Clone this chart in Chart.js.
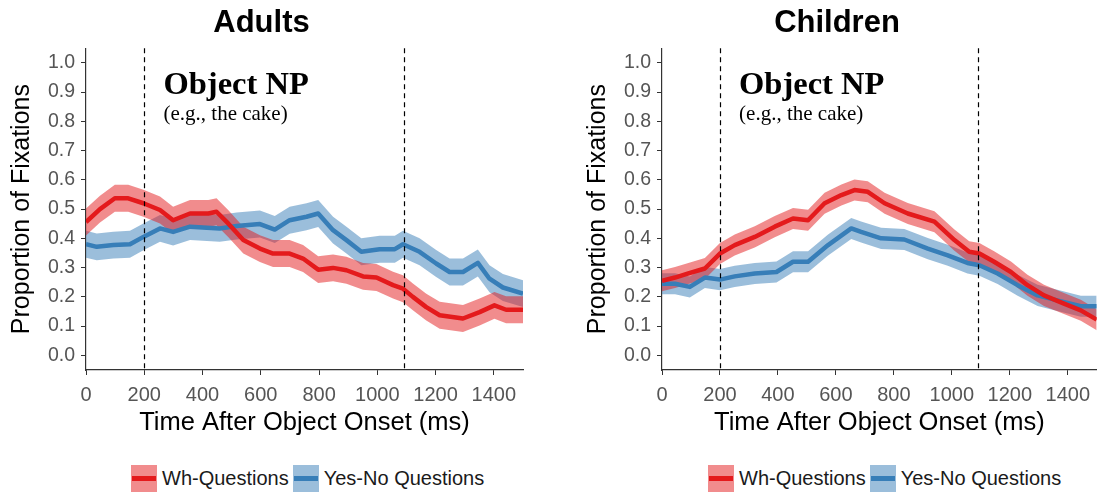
<!DOCTYPE html>
<html><head><meta charset="utf-8">
<script src="https://cdn.jsdelivr.net/npm/chart.js@4.4.0/dist/chart.umd.min.js"></script>
<style>
html,body{margin:0;padding:0;background:#fff;}
body{width:1098px;height:496px;position:relative;overflow:hidden;font-family:"Liberation Sans",Arial,sans-serif;}
canvas{position:absolute;top:0;}
#c1{left:0}#c2{left:549px}
.legend{position:absolute;top:465px;height:27px;display:flex;align-items:center;font-size:20px;color:#1a1a1a;white-space:nowrap;}
.key{width:26px;height:27px;position:relative;margin-right:5px;}
.key i{position:absolute;left:1px;right:1px;top:11px;height:5px;}
.lab{margin-right:4px;}
</style>
</head><body>
<canvas id="c1" width="549" height="455"></canvas>
<canvas id="c2" width="549" height="455"></canvas>
<div class="legend" style="left:131px">
  <div class="key" style="background:#f18c8d"><i style="background:#e41a1c"></i></div><span class="lab">Wh-Questions</span>
  <div class="key" style="background:#9bbedb"><i style="background:#377eb8"></i></div><span class="lab">Yes-No Questions</span>
</div>
<div class="legend" style="left:708px">
  <div class="key" style="background:#f18c8d"><i style="background:#e41a1c"></i></div><span class="lab">Wh-Questions</span>
  <div class="key" style="background:#9bbedb"><i style="background:#377eb8"></i></div><span class="lab">Yes-No Questions</span>
</div>
<script>
// ---- data ----
const panelTitles = ['Adults', 'Children'];
const seriesNames = ['Wh-Questions', 'Yes-No Questions'];
const xTicks = [0, 200, 400, 600, 800, 1000, 1200, 1400];
const yTicks = [0, 0.1, 0.2, 0.3, 0.4, 0.5, 0.6, 0.7, 0.8, 0.9, 1.0];
const regionMarks = [200, 1090];

const adultWhTime = [0, 48, 99, 145, 197, 254, 299, 357, 420, 448, 488, 540, 597, 642, 699, 745, 797, 848, 894, 951, 997, 1054, 1088, 1122, 1168, 1214, 1294, 1351, 1402, 1442, 1500];
const adultWh     = [0.456, 0.50, 0.537, 0.537, 0.52, 0.497, 0.462, 0.485, 0.485, 0.491, 0.451, 0.394, 0.365, 0.348, 0.348, 0.331, 0.293, 0.299, 0.291, 0.27, 0.266, 0.24, 0.228, 0.2, 0.165, 0.137, 0.126, 0.148, 0.171, 0.156, 0.156];
const adultYnTime = [0, 37, 94, 151, 197, 254, 299, 357, 459, 517, 597, 648, 699, 757, 797, 848, 894, 945, 1008, 1060, 1088, 1145, 1202, 1248, 1294, 1345, 1385, 1431, 1500];
const adultYn     = [0.38, 0.371, 0.377, 0.38, 0.405, 0.434, 0.422, 0.44, 0.434, 0.442, 0.449, 0.43, 0.462, 0.474, 0.485, 0.428, 0.394, 0.354, 0.363, 0.363, 0.38, 0.354, 0.314, 0.285, 0.285, 0.316, 0.262, 0.232, 0.211];
const adultCI = [0.046, 0.046];

const childWhTime = [0, 45, 91, 148, 200, 251, 320, 389, 452, 504, 561, 619, 664, 710, 768, 848, 940, 1009, 1060, 1095, 1146, 1204, 1261, 1318, 1387, 1445, 1500];
const childWh     = [0.255, 0.266, 0.28, 0.297, 0.348, 0.377, 0.405, 0.44, 0.468, 0.462, 0.52, 0.548, 0.565, 0.559, 0.52, 0.485, 0.457, 0.394, 0.354, 0.348, 0.32, 0.285, 0.24, 0.205, 0.177, 0.154, 0.122];
const childYnTime = [0, 45, 96, 148, 200, 251, 320, 395, 452, 504, 573, 653, 687, 756, 836, 917, 986, 1054, 1095, 1158, 1227, 1296, 1364, 1445, 1500];
const childYn     = [0.245, 0.245, 0.234, 0.266, 0.259, 0.27, 0.28, 0.285, 0.32, 0.32, 0.377, 0.434, 0.422, 0.4, 0.396, 0.365, 0.342, 0.316, 0.308, 0.28, 0.24, 0.205, 0.188, 0.168, 0.168];
const childCI = [0.036, 0.036];

const annotTitle = 'Object NP';
const annotSub = '(e.g., the cake)';

// ---- styling ----
const lineColors = ['#e41a1c', '#377eb8'];
const bandColors = ['rgba(228,26,28,0.5)', 'rgba(55,126,184,0.5)'];
const FONT = '"Liberation Sans", Arial, sans-serif';

function pts(t, v, d) { return t.map((x, i) => ({x: x, y: v[i] + d})); }

const overlay = {
  id: 'overlay',
  afterDatasetsDraw(chart) {
    const {ctx, chartArea: a, scales: {x, y}} = chart;
    ctx.save();
    ctx.strokeStyle = '#000';
    ctx.lineWidth = 1.2;
    ctx.setLineDash([5, 4]);
    regionMarks.forEach(m => {
      const px = Math.round(x.getPixelForValue(m)) + 0.5;
      ctx.beginPath(); ctx.moveTo(px, a.top); ctx.lineTo(px, a.bottom); ctx.stroke();
    });
    ctx.setLineDash([]);
    ctx.fillStyle = '#000';
    ctx.textBaseline = 'alphabetic';
    ctx.textAlign = 'left';
    ctx.font = 'bold 32.5px "Liberation Serif", "Times New Roman", serif';
    ctx.fillText(annotTitle, x.getPixelForValue(266), y.getPixelForValue(0.895));
    ctx.font = '21px "Liberation Serif", "Times New Roman", serif';
    ctx.fillText(annotSub, x.getPixelForValue(266), y.getPixelForValue(0.803));
    ctx.restore();
  }
};

function makeChart(id, title, whT, wh, ynT, yn, ci, padLeft, padRight) {
  const datasets = [
    {label: seriesNames[0], data: pts(whT, wh, 0), borderColor: lineColors[0], borderWidth: 4.5, fill: false},
    {label: seriesNames[1], data: pts(ynT, yn, 0), borderColor: lineColors[1], borderWidth: 4.5, fill: false},
    {label: 'wh-up', data: pts(whT, wh, ci[0]), borderWidth: 0, borderColor: 'transparent', backgroundColor: bandColors[0], fill: '+1'},
    {label: 'wh-lo', data: pts(whT, wh, -ci[0]), borderWidth: 0, borderColor: 'transparent', fill: false},
    {label: 'yn-up', data: pts(ynT, yn, ci[1]), borderWidth: 0, borderColor: 'transparent', backgroundColor: bandColors[1], fill: '+1'},
    {label: 'yn-lo', data: pts(ynT, yn, -ci[1]), borderWidth: 0, borderColor: 'transparent', fill: false}
  ];
  return new Chart(document.getElementById(id), {
    type: 'line',
    data: {datasets},
    options: {
      responsive: false, animation: false, devicePixelRatio: 1,
      elements: {point: {radius: 0}, line: {tension: 0, borderJoinStyle: 'round'}},
      layout: {padding: {left: padLeft, right: padRight, top: 0, bottom: 0}},
      plugins: {
        legend: {display: false}, tooltip: {enabled: false},
        title: {display: true, text: title, color: '#000', font: {family: FONT, size: 31, weight: 'bold'}, padding: {top: 5, bottom: 6}}
      },
      scales: {
        x: {
          type: 'linear', min: 0, max: 1500,
          afterBuildTicks: s => { s.ticks = xTicks.map(v => ({value: v})); },
          afterFit: s => { s.height = 85; },
          ticks: {color: '#555', font: {family: FONT, size: 20}, padding: 8, maxRotation: 0, autoSkip: false, callback: v => String(v)},
          grid: {drawOnChartArea: false, drawTicks: true, tickLength: 5, color: '#333', lineWidth: 1},
          border: {display: true, color: '#333', width: 1.2},
          title: {display: true, text: 'Time After Object Onset (ms)', color: '#000', font: {family: FONT, size: 25.5}, padding: {top: 0, bottom: 17}}
        },
        y: {
          type: 'linear', min: -0.05, max: 1.05,
          afterBuildTicks: s => { s.ticks = yTicks.map(v => ({value: v})); },
          afterFit: s => { s.width = 86; },
          ticks: {color: '#555', font: {family: FONT, size: 19.5}, padding: 6, autoSkip: false, callback: v => v.toFixed(1)},
          grid: {drawOnChartArea: false, drawTicks: true, tickLength: 5, color: '#333', lineWidth: 1},
          border: {display: true, color: '#333', width: 1.2},
          title: {display: true, text: 'Proportion of Fixations', color: '#000', font: {family: FONT, size: 25}, padding: {top: 7, bottom: 0}}
        }
      }
    },
    plugins: [overlay]
  });
}

makeChart('c1', panelTitles[0], adultWhTime, adultWh, adultYnTime, adultYn, adultCI, 0, 26);
makeChart('c2', panelTitles[1], childWhTime, childWh, childYnTime, childYn, childCI, 27, 0);
</script>
</body></html>
